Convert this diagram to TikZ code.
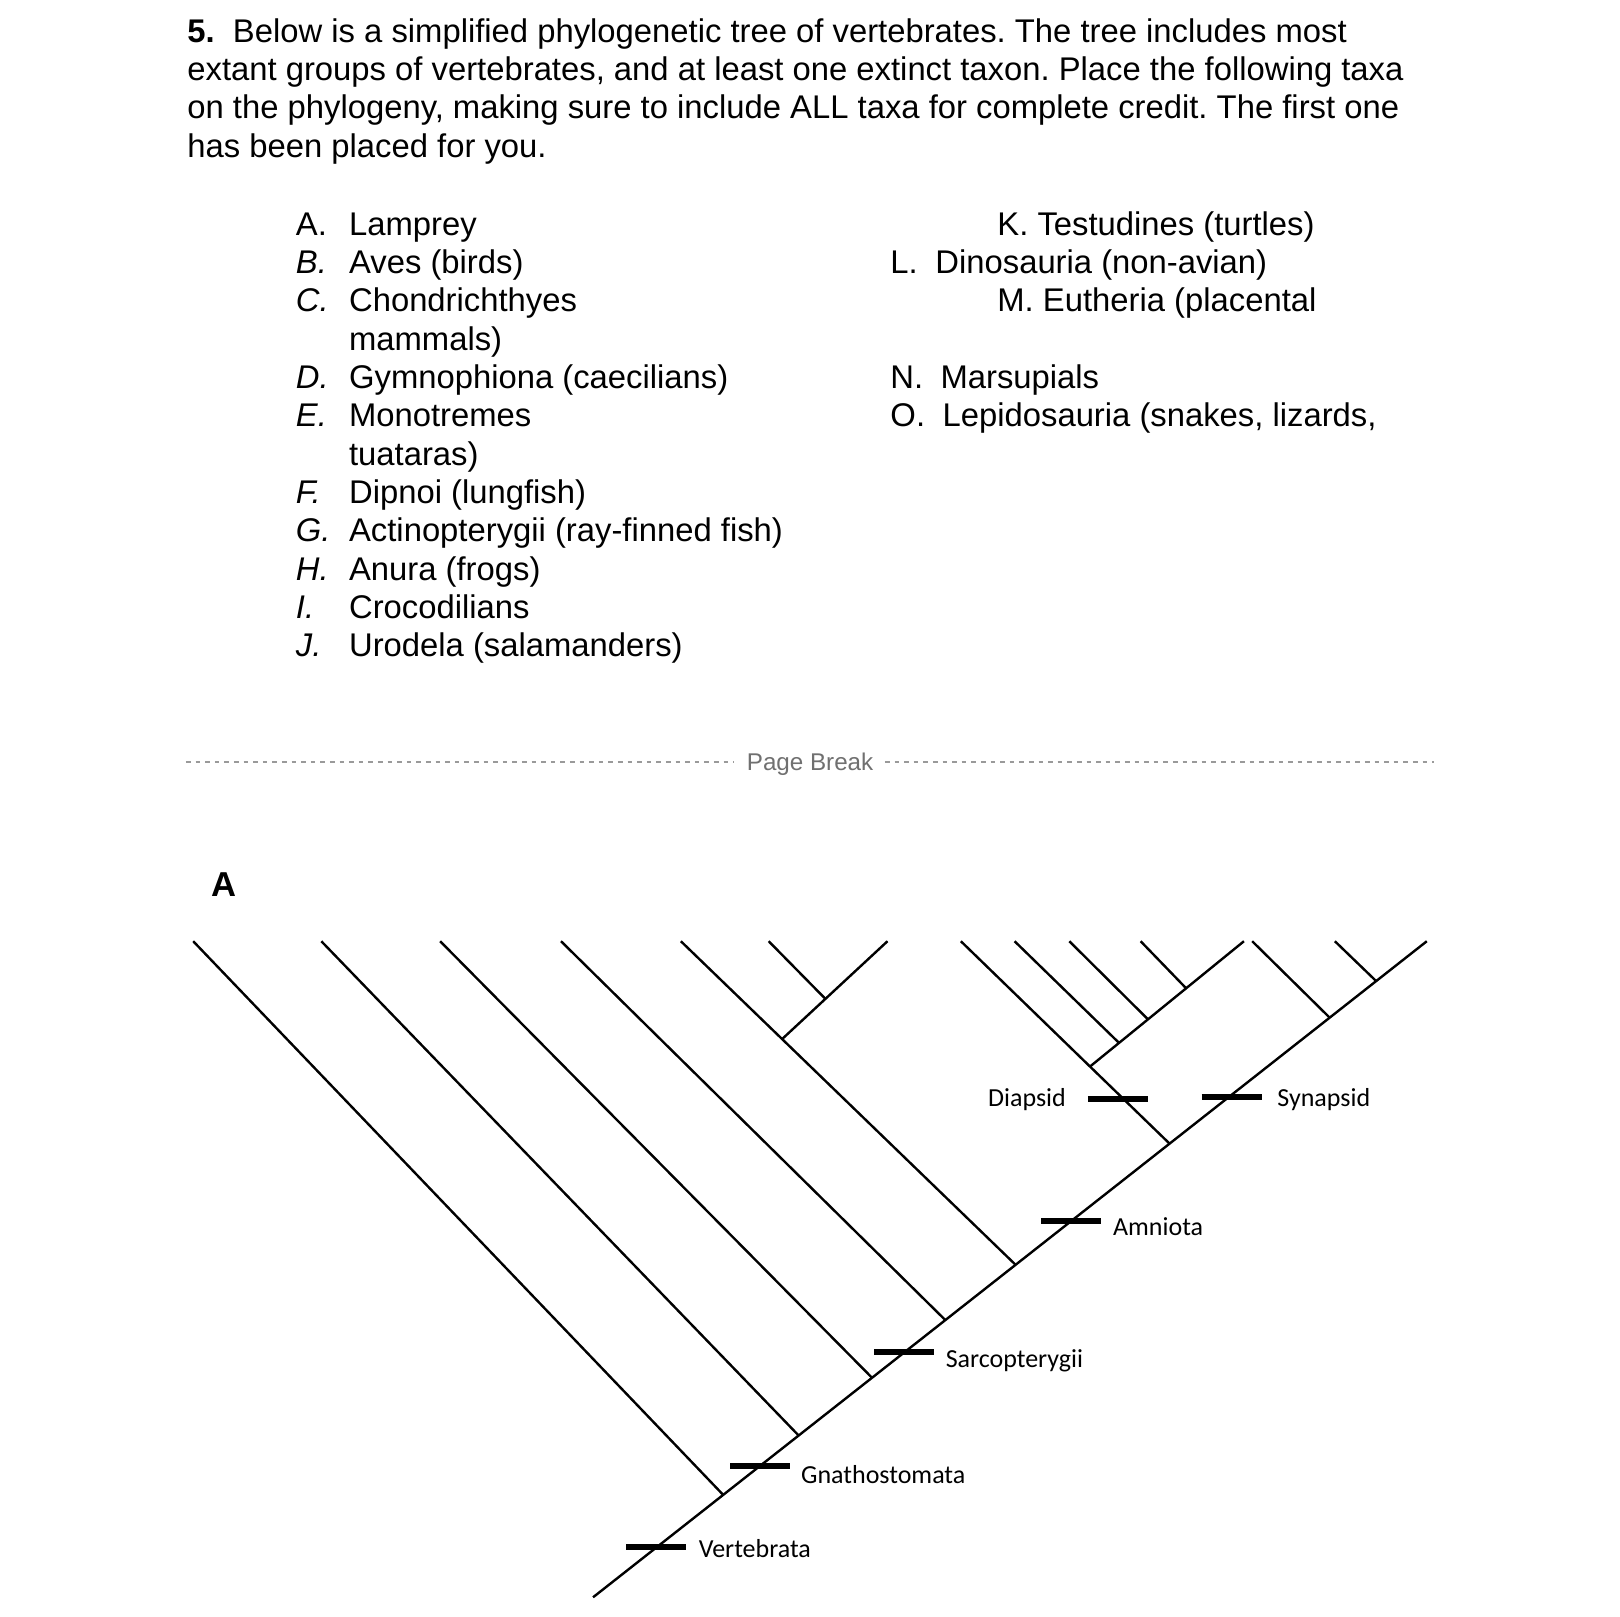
\documentclass[tikz,border=0pt]{standalone}
\usepackage{fontspec}
\setmainfont{Liberation Sans}
\newfontfamily\calib{Carlito}
\definecolor{pbline}{HTML}{9A9A9A}
\definecolor{pbtext}{HTML}{707070}
\frenchspacing
\begin{document}
\frenchspacing
\begin{tikzpicture}[x=0.5166pt,y=-0.5166pt,
  para/.style={anchor=base west, inner sep=0pt, font=\fontsize{16.4}{19}\selectfont},
  lbl/.style={anchor=base west, inner sep=0pt, font=\calib\fontsize{13}{15}\selectfont},
  branch/.style={line width=1.2pt},
  tick/.style={line width=3.1pt},
  pbdash/.style={draw=pbline, line width=0.85pt, dash pattern=on 2.3pt off 2.5pt}]
\fill[white] (0,0) rectangle (1568,1565);
\useasboundingbox (0,0) rectangle (1568,1565);

% question text
\node[para] (q1) at (181,41) {\textbf{5.}\ \ Below is a simplified phylogenetic tree of vertebrates. The tree includes most};
\node[para] (q2) at (181,78) {extant groups of vertebrates, and at least one extinct taxon. Place the following taxa};
\node[para] (q3) at (181,115) {on the phylogeny, making sure to include ALL taxa for complete credit. The first one};
\node[para] (q4) at (181,152) {has been placed for you.};

% left list
\node[para] (ka) at (286,227.5) {A.};
\node[para] (ta) at (337.5,227.5) {Lamprey};
\node[para] (kb) at (286,264.6) {\textit{B.}};
\node[para] (tb) at (337.5,264.6) {Aves (birds)};
\node[para] (kc) at (286,301.7) {\textit{C.}};
\node[para] (tc) at (337.5,301.7) {Chondrichthyes};
\node[para] (tc2) at (337.5,338.8) {mammals)};
\node[para] (kd) at (286,375.9) {\textit{D.}};
\node[para] (td) at (337.5,375.9) {Gymnophiona (caecilians)};
\node[para] (ke) at (286,413) {\textit{E.}};
\node[para] (te) at (337.5,413) {Monotremes};
\node[para] (te2) at (337.5,450.1) {tuataras)};
\node[para] (kf) at (286,487.2) {\textit{F.}};
\node[para] (tf) at (337.5,487.2) {Dipnoi (lungfish)};
\node[para] (kg) at (286,524.3) {\textit{G.}};
\node[para] (tg) at (337.5,524.3) {Actinopterygii (ray-finned fish)};
\node[para] (kh) at (286,561.4) {\textit{H.}};
\node[para] (th) at (337.5,561.4) {Anura (frogs)};
\node[para] (ki) at (286,598.5) {\textit{I.}};
\node[para] (ti) at (337.5,598.5) {Crocodilians};
\node[para] (kj) at (286,635.6) {\textit{J.}};
\node[para] (tj) at (337.5,635.6) {Urodela (salamanders)};

% right list
\node[para] (tk) at (965,227.5) {K. Testudines (turtles)};
\node[para] (kl) at (861.5,264.6) {L.};
\node[para] (tl) at (905,264.6) {Dinosauria (non-avian)};
\node[para] (tm) at (965,301.7) {M. Eutheria (placental};
\node[para] (kn) at (861.5,375.9) {N.};
\node[para] (tn) at (910,375.9) {Marsupials};
\node[para] (ko) at (861.5,413) {O.};
\node[para] (to) at (912,413) {Lepidosauria (snakes, lizards,};

% page break
\node[anchor=base west, inner sep=0pt, text=pbtext, font=\fontsize{12.1}{14}\selectfont] (pb) at (722.5,745.3) {Page Break};
\coordinate (pbl1) at (180,737.5);
\coordinate (pbl2) at (710.5,737.5);
\coordinate (pbr1) at (856.5,737.5);
\coordinate (pbr2) at (1388,737.5);
\draw[pbdash] (pbl1) -- (pbl2);
\draw[pbdash] (pbr1) -- (pbr2);

% answer placed
\node[anchor=base west, inner sep=0pt, font=\bfseries\fontsize{17.3}{20}\selectfont] (ans) at (204,868) {A};

% tree coordinates
\coordinate (root) at (574,1546);
\coordinate (tip) at (1381,911);
\coordinate (n1) at (700,1446.9);
\coordinate (n2) at (773,1389.4);
\coordinate (n3) at (844,1333.5);
\coordinate (n4) at (915,1277.7);
\coordinate (n5) at (983,1224.2);
\coordinate (n6) at (1132,1106.9);
\coordinate (n7) at (1287,985.0);
\coordinate (n8) at (1332,949.6);
\coordinate (l1) at (187,911);
\coordinate (l2) at (311,911);
\coordinate (l3) at (426,911);
\coordinate (l4) at (543,911);
\coordinate (l5) at (659,911);
\coordinate (a1) at (757,1005.7);
\coordinate (a2) at (799,966.9);
\coordinate (l6) at (744,911);
\coordinate (l7) at (859,911);
\coordinate (d1) at (1055,1032.3);
\coordinate (d2) at (1083,1009.3);
\coordinate (d3) at (1111,986.5);
\coordinate (d4) at (1148,956.5);
\coordinate (l8) at (930,911);
\coordinate (l9) at (982,911);
\coordinate (l10) at (1035,911);
\coordinate (l11) at (1104,911);
\coordinate (l12) at (1204,911);
\coordinate (l13) at (1212,911);
\coordinate (l14) at (1292,911);

% branches
\draw[branch] (root) -- (tip);
\draw[branch] (n1) -- (l1);
\draw[branch] (n2) -- (l2);
\draw[branch] (n3) -- (l3);
\draw[branch] (n4) -- (l4);
\draw[branch] (n5) -- (a1) -- (l5);
\draw[branch] (a1) -- (l7);
\draw[branch] (a2) -- (l6);
\draw[branch] (n6) -- (d1) -- (l8);
\draw[branch] (d1) -- (l12);
\draw[branch] (d2) -- (l9);
\draw[branch] (d3) -- (l10);
\draw[branch] (d4) -- (l11);
\draw[branch] (n7) -- (l13);
\draw[branch] (n8) -- (l14);

% ticks
\coordinate (tv1) at (606,1497); \coordinate (tv2) at (664,1497);
\coordinate (tg1) at (707,1419); \coordinate (tg2) at (765,1419);
\coordinate (ts1) at (846,1308.5); \coordinate (ts2) at (904,1308.5);
\coordinate (tam1) at (1008,1181.5); \coordinate (tam2) at (1066,1181.5);
\coordinate (tsy1) at (1163,1062); \coordinate (tsy2) at (1221,1062);
\coordinate (td1) at (1053,1064); \coordinate (td2) at (1111,1064);
\draw[tick] (tv1) -- (tv2);
\draw[tick] (tg1) -- (tg2);
\draw[tick] (ts1) -- (ts2);
\draw[tick] (tam1) -- (tam2);
\draw[tick] (tsy1) -- (tsy2);
\draw[tick] (td1) -- (td2);

% clade labels
\node[lbl] (vert) at (676,1507) {Vertebrata};
\node[lbl] (gnat) at (775,1435.5) {Gnathostomata};
\node[lbl] (sarc) at (915,1323.8) {Sarcopterygii};
\node[lbl] (amni) at (1077,1195.5) {Amniota};
\node[lbl] (diap) at (956,1070.5) {Diapsid};
\node[lbl] (syna) at (1236,1070.5) {Synapsid};
\end{tikzpicture}
\end{document}
